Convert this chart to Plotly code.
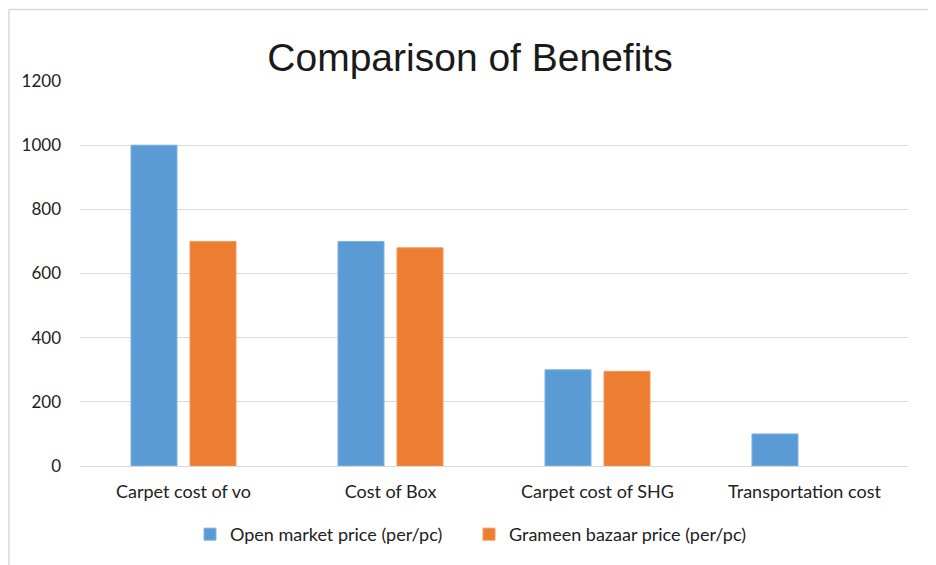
import plotly.graph_objects as go

categories = ["Carpet cost of vo", "Cost of Box", "Carpet cost of SHG", "Transportation cost"]
open_market = [1000, 700, 300, 100]
grameen = [700, 680, 295, None]
series_names = ["Open market price (per/pc)", "Grameen bazaar price (per/pc)"]
y_ticks = [0, 200, 400, 600, 800, 1000, 1200]

# page body has an 8px margin, so the figure is drawn 8px smaller and offset
OFF = 8
W, H = 936 - OFF, 565 - OFF
L, R, T, B = 80 - OFF, 28, 81 - OFF, 96
pw, ph = W - L - R, H - T - B

fig = go.Figure()
fig.add_trace(go.Bar(x=categories, y=open_market, name=series_names[0],
                     marker=dict(color="#5B9BD5", line=dict(color="#7FB2E0", width=1))))
fig.add_trace(go.Bar(x=categories, y=grameen, name=series_names[1],
                     marker=dict(color="#ED7D31", line=dict(color="#F09A5E", width=1))))

def px_x(x):
    return (x - OFF - L) / pw

def px_y(y):
    return (H - B - (y - OFF)) / ph

fig.update_layout(
    width=W, height=H,
    margin=dict(l=L, r=R, t=T, b=B),
    paper_bgcolor="white", plot_bgcolor="white",
    barmode="group", bargap=0.43, bargroupgap=0.22,
    title=dict(text="Comparison of Benefits", x=px_x(470), xanchor="center", xref="paper",
               y=1 - (57 - OFF) / H, yanchor="middle",
               font=dict(family="Liberation Sans", size=39, color="#1a1a1a")),
    font=dict(family="Lato", size=18, color="#222222"),
    xaxis=dict(showgrid=False, showline=False, ticks="", ticklabelstandoff=13,
               tickfont=dict(family="Lato", size=18, color="#222222")),
    yaxis=dict(range=[0, 1200], tickvals=y_ticks, showgrid=True, gridcolor="#D9D9D9",
               gridwidth=1.3, zeroline=True, zerolinecolor="#D9D9D9", zerolinewidth=1.3,
               showline=False, ticks="", ticklabelstandoff=18,
               tickfont=dict(family="Lato", size=17, color="#222222")),
    legend=dict(orientation="h", x=px_x(190), xanchor="left", y=px_y(538), yanchor="middle",
                font=dict(family="Lato", size=18, color="#222222"), traceorder="normal",
                entrywidth=234, entrywidthmode="pixels"),
    shapes=[dict(type="rect", xref="paper", yref="paper",
                 x0=px_x(9), x1=px_x(932), y0=px_y(580), y1=px_y(9),
                 line=dict(color="#D9D9D9", width=1.5), fillcolor="rgba(0,0,0,0)", layer="below")],
)

fig.write_html("out.html")
